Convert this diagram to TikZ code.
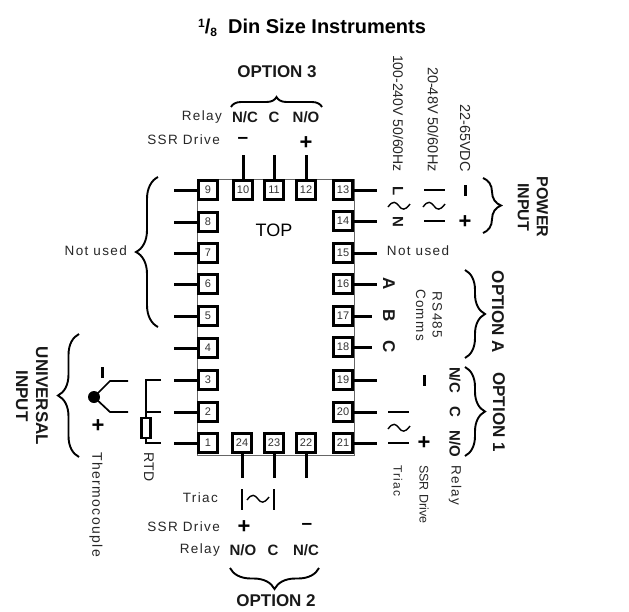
\documentclass[tikz,border=0pt]{standalone}
\usepackage{fontspec}
\setmainfont{Liberation Sans}
\usetikzlibrary{decorations.pathreplacing}
\newcommand{\fs}[1]{\fontsize{#1}{#1}\selectfont}
\newcommand{\wide}{\addfontfeature{LetterSpace=10}}
\tikzset{
 x=1pt,y=-1pt,
 term/.style={draw=black,fill=white,line width=3.4pt,minimum size=18.5pt,inner sep=0pt,font=\fs{11},text=black!80},
 lead/.style={line width=3pt,black},
 body/.style={draw=black!60,line width=1pt},
 small/.style={inner sep=0pt,font=\fs{13.5}\wide,text=black!85},
 small down/.style={small,rotate=-90},
 volt/.style={inner sep=0pt,rotate=-90,font=\fs{14},text=black!85},
 opt/.style={inner sep=0pt,font=\fs{17}\bfseries,text=black!90},
 opt down/.style={opt,rotate=-90,align=center},
 pin/.style={inner sep=0pt,font=\fs{15}\bfseries,text=black!90},
 pin down/.style={pin,rotate=-90},
 plus/.style={inner sep=0pt,font=\fs{22}\bfseries},
 minus/.style={inner sep=0pt,font=\fs{19}\bfseries},
 mark stroke/.style={line width=2.4pt,black},
 dash bar/.style={line width=3pt,black},
 curly/.style={decorate,decoration={brace,amplitude=10pt},line width=1.9pt,black},
 wire/.style={line width=1.7pt,black},
 wave/.style={line width=1.4pt,black},
}
\newcommand{\tildeat}[2]{\draw[wave] (#1-11,#2+1) .. controls (#1-6,#2-6) and (#1-3,#2-4) .. (#1,#2) .. controls (#1+3,#2+4) and (#1+6,#2+5) .. (#1+11,#2-2);}
\begin{document}
\begin{tikzpicture}
\useasboundingbox (0,0) rectangle (629,611);
% body
\draw[body] (197,179) rectangle (354,455);
% terminals
\foreach \n/\x/\y in {9/208/190,8/208/222,7/208/253,6/208/284,5/208/316,4/208/348,3/208/380,2/208/412,1/208/443,
 10/243/190,11/274/190,12/306/190,13/343/190,14/343/221,15/343/253,16/343/284,17/343/316,18/343/347,19/343/380,20/343/412,21/343/443,
 24/242/443,23/274/443,22/306/443}
 \node[term] (t\n) at (\x,\y) {\n};
% lead ends
\foreach \n/\y in {9/190,8/222,7/253,6/284,5/316,4/348,3/380,2/412,1/443}{
 \coordinate (e\n) at (174,\y); \draw[lead] (t\n.west) -- (e\n);}
\foreach \n/\y/\x in {13/190/377,14/221/377,15/253/377,16/284/377,17/316/372,18/347/372,19/380/377,20/412/377,21/443/377}{
 \coordinate (e\n) at (\x,\y); \draw[lead] (t\n.east) -- (e\n);}
\foreach \n/\x in {10/243,11/274,12/306}{
 \coordinate (e\n) at (\x,155); \draw[lead] (t\n.north) -- (e\n);}
\foreach \n/\x in {24/242,23/274,22/306}{
 \coordinate (e\n) at (\x,478); \draw[lead] (t\n.south) -- (e\n);}
\node[inner sep=0pt,font=\fs{18}] (top) at (274,230) {TOP};
% title
\node[inner sep=0pt,font=\fs{20}\bfseries] (title) at (312,28) {\raisebox{6pt}{\fs{12}1}/\raisebox{-3pt}{\fs{12}8}\ \ Din Size Instruments};
% option 3
\node[opt] (o3) at (277,72) {OPTION 3};
\coordinate (b3a) at (231,107); \coordinate (b3b) at (322,107);
\draw[curly] (b3a) -- (b3b);
\node[small,anchor=east] (r3) at (222,117) {Relay};
\node[small,anchor=east] (s3) at (220,140) {SSR Drive};
\node[pin] (nc3) at (245,117) {N/C};
\node[pin] (c3) at (274,117) {C};
\node[pin] (no3) at (306,117) {N/O};
\node[minus] (m3) at (243,140) {--};
\node[plus] (p3) at (306,143) {+};
% power input
\node[volt,anchor=east] (v1) at (398,172) {100-240V 50/60Hz};
\node[volt,anchor=east,font=\fs{14.5}] (v2) at (433,172) {20-48V 50/60Hz};
\node[volt,anchor=east,font=\fs{14.5}] (v3) at (465,172) {22-65VDC};
\node[pin down] (L) at (398,191) {L};
\node[pin down] (N) at (398,222) {N};
\tildeat{399}{206}
\coordinate (a1) at (424,190); \coordinate (a2) at (445,190); \draw[mark stroke] (a1) -- (a2);
\coordinate (a3) at (424,221); \coordinate (a4) at (445,221); \draw[mark stroke] (a3) -- (a4);
\tildeat{434}{206}
\coordinate (a5) at (465,185); \coordinate (a6) at (465,196); \draw[dash bar] (a5) -- (a6);
\node[plus] (p0) at (465,222) {+};
\coordinate (bpa) at (483,178); \coordinate (bpb) at (483,233);
\draw[curly,decoration={amplitude=18pt,aspect=.5}] (bpa) -- (bpb);
\node[opt down,font=\fs{16}\bfseries] (pw) at (533,207) {POWER\\[3pt]INPUT};
\node[small] (nu15) at (418,251) {Not used};
% comms
\node[pin down,font=\fs{17}\bfseries] (A) at (389,284) {A};
\node[pin down,font=\fs{17}\bfseries] (B) at (389,316) {B};
\node[pin down,font=\fs{17}\bfseries] (C) at (389,347) {C};
\node[small down,align=center] (rs) at (429,315) {RS485\\[3pt]Comms};
\coordinate (baa) at (465,270); \coordinate (bab) at (465,358);
\draw[curly,decoration={amplitude=20pt}] (baa) -- (bab);
\node[opt down] (oa) at (498,312) {OPTION A};
% option 1
\coordinate (b1a) at (465,367); \coordinate (b1b) at (465,456);
\draw[curly,decoration={amplitude=20pt}] (b1a) -- (b1b);
\node[opt down] (o1) at (499,412) {OPTION 1};
\node[pin down] (nc1) at (455,380) {N/C};
\node[pin down] (c1) at (455,412) {C};
\node[pin down] (no1) at (455,444) {N/O};
\coordinate (m1a) at (424,375); \coordinate (m1b) at (424,386); \draw[dash bar] (m1a) -- (m1b);
\coordinate (c1a) at (388,412); \coordinate (c1b) at (409,412); \draw[mark stroke] (c1a) -- (c1b);
\coordinate (c2a) at (388,443); \coordinate (c2b) at (409,443); \draw[mark stroke] (c2a) -- (c2b);
\tildeat{399}{428}
\node[plus] (p1) at (424,443) {+};
\node[small down,anchor=west,font=\fs{12}\wide] (tr1) at (398,465) {Triac};
\node[small down,anchor=west,font=\fs{12.5}] (ss1) at (424,465) {SSR Drive};
\node[small down,anchor=west] (re1) at (455,465) {Relay};
% left not used
\coordinate (bna) at (158,327); \coordinate (bnb) at (158,177);
\draw[curly,decoration={amplitude=22pt}] (bna) -- (bnb);
\node[small,anchor=east] (nu) at (127,251) {Not used};
% universal input
\coordinate (bua) at (79,457); \coordinate (bub) at (79,334);
\draw[curly,decoration={amplitude=21pt}] (bua) -- (bub);
\node[opt down] (ui) at (32,396) {UNIVERSAL\\[3pt]INPUT};
% thermocouple
\fill (94,397) circle (6) coordinate (tc);
\coordinate (tc1) at (110,381); \coordinate (tc2) at (128,381);
\coordinate (tc3) at (110,412); \coordinate (tc4) at (128,412);
\draw[wire] (tc) -- (tc1) -- (tc2);
\draw[wire] (tc) -- (tc3) -- (tc4);
\coordinate (m4a) at (102,367); \coordinate (m4b) at (102,378); \draw[dash bar] (m4a) -- (m4b);
\node[plus] (p4) at (98,426) {+};
\node[small down,anchor=west,font=\fs{14}\wide] (th) at (96,452) {Thermocouple};
% RTD
\coordinate (r1) at (161,380); \coordinate (r2) at (146,380); \coordinate (r3) at (146,417);
\coordinate (r4) at (161,412); \coordinate (r5) at (146,412);
\coordinate (r6) at (146,439); \coordinate (r7) at (146,443); \coordinate (r8) at (161,443);
\draw[wire] (r1) -- (r2) -- (r3);
\draw[wire] (r4) -- (r5);
\draw[wire] (r6) -- (r7) -- (r8);
\node[draw,line width=2.2pt,fill=white,minimum width=9pt,minimum height=20pt,inner sep=0pt] (rtd) at (146,428) {};
\node[small down,font=\fs{14}] (rl) at (149,467) {RTD};
% option 2
\node[small,anchor=east] (tr2) at (218,498) {Triac};
\node[small,anchor=east] (s2) at (220,527) {SSR Drive};
\node[small,anchor=east] (r22) at (220,550) {Relay};
\coordinate (d1a) at (242,489); \coordinate (d1b) at (242,510); \draw[mark stroke] (d1a) -- (d1b);
\coordinate (d2a) at (274,489); \coordinate (d2b) at (274,510); \draw[mark stroke] (d2a) -- (d2b);
\tildeat{258}{499}
\node[plus] (p2) at (244,527) {+};
\node[minus] (m2) at (307,526) {--};
\node[pin] (no2) at (243,550) {N/O};
\node[pin] (c2) at (273,550) {C};
\node[pin] (nc2) at (306,550) {N/C};
\coordinate (b2a) at (319,568); \coordinate (b2b) at (230,568);
\draw[curly,decoration={amplitude=21pt}] (b2a) -- (b2b);
\node[opt] (o2) at (276,601) {OPTION 2};
\end{tikzpicture}
\end{document}
